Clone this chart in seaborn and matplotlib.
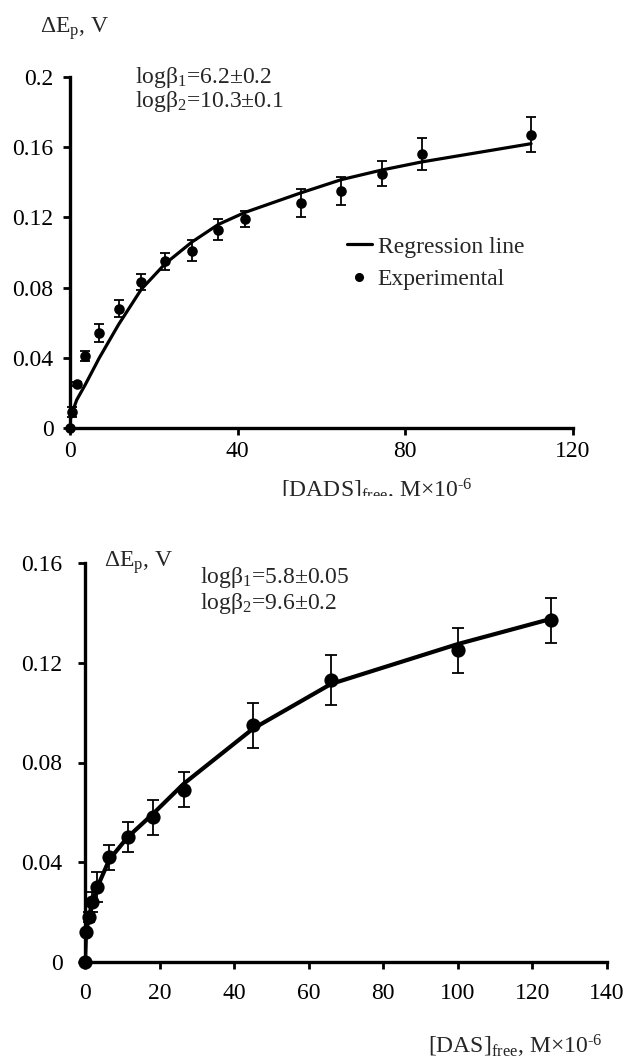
import matplotlib
matplotlib.use("Agg")
import matplotlib.pyplot as plt
from matplotlib.lines import Line2D
from matplotlib.transforms import Bbox, TransformedBbox
import seaborn as sns

# ---- DADS titration: peak-potential shift vs free ligand concentration ----
dads_conc = [0, 0.55, 1.6, 3.6, 7.0, 11.6, 17.0, 22.7, 29.1, 35.4, 41.7, 55.1, 64.7, 74.4, 83.9, 110]
dads_shift = [0, 0.009, 0.025, 0.041, 0.054, 0.068, 0.083, 0.095, 0.101, 0.113, 0.119,
              0.128, 0.135, 0.145, 0.156, 0.167]
dads_err = [0, 0.003, 0.001, 0.003, 0.005, 0.005, 0.0045, 0.005, 0.006, 0.006, 0.0045,
            0.008, 0.008, 0.007, 0.009, 0.010]
dads_fit = [0.004, 0.009, 0.016, 0.0245, 0.040, 0.059, 0.079, 0.0936, 0.106, 0.116, 0.1228,
            0.134, 0.1415, 0.147, 0.1516, 0.162]

# ---- DAS titration ----
das_conc = [0, 0.27, 1.07, 1.8, 3.3, 6.5, 11.4, 18.3, 26.5, 45, 66, 100, 125]
das_shift = [0, 0.012, 0.018, 0.024, 0.030, 0.042, 0.050, 0.058, 0.069, 0.095, 0.113, 0.125, 0.137]
das_err = [0, 0, 0.002, 0.004, 0.006, 0.005, 0.006, 0.007, 0.007, 0.009, 0.010, 0.009, 0.009]
das_fit = [0, 0.012, 0.018, 0.023, 0.030, 0.041, 0.050, 0.0595, 0.0715, 0.0935, 0.1115, 0.1275, 0.1376]

# ---- tick positions and labels ----
dads_xticks = [0, 40, 80, 120]
dads_yticks = [0, 0.04, 0.08, 0.12, 0.16, 0.2]
dads_ylabels = ["0", "0.04", "0.08", "0.12", "0.16", "0.2"]
das_xticks = [0, 20, 40, 60, 80, 100, 120, 140]
das_yticks = [0, 0.04, 0.08, 0.12, 0.16]
das_ylabels = ["0", "0.04", "0.08", "0.12", "0.16"]

dads_consts = ["logβ$_{\\mathregular{1}}$=6.2±0.2", "logβ$_{\\mathregular{2}}$=10.3±0.1"]
das_consts = ["logβ$_{\\mathregular{1}}$=5.8±0.05", "logβ$_{\\mathregular{2}}$=9.6±0.2"]
ylabel_text = "ΔE$_{\\mathregular{p}}$, V"
dads_xlabel = "[DADS]$_{\\mathregular{free}}$, M×10$^{\\mathregular{\u20106}}$"
das_xlabel = "[DAS]$_{\\mathregular{free}}$, M×10$^{\\mathregular{\u20106}}$"

sns.set_theme(style="ticks")
plt.rcParams["font.family"] = ["Liberation Serif", "DejaVu Serif"]
plt.rcParams["mathtext.fontset"] = "custom"
plt.rcParams["mathtext.rm"] = "Liberation Serif"
plt.rcParams["mathtext.it"] = "Liberation Serif:italic"
plt.rcParams["mathtext.bf"] = "Liberation Serif:bold"

W, H = 627, 1064
FS = 17
fig = plt.figure(figsize=(W / 100, H / 100), dpi=100)


def px_axes(left, top, right, bottom):
    return fig.add_axes([left / W, 1 - bottom / H, (right - left) / W, (bottom - top) / H])


def fig_xy(x, y):
    return x / W, 1 - y / H


def style_axes(ax, xpad, ypad, ticklen):
    for side in ("top", "right"):
        ax.spines[side].set_visible(False)
    for side in ("left", "bottom"):
        ax.spines[side].set_linewidth(2.4)
        ax.spines[side].set_color("black")
        ax.spines[side].set_capstyle("projecting")
    ax.tick_params(axis="both", direction="out", length=ticklen, width=2.0,
                   color="black", labelsize=FS, labelcolor="black")
    ax.tick_params(axis="x", pad=xpad)
    ax.tick_params(axis="y", pad=ypad)
    ax.grid(False)
    ax.set_facecolor("white")
    ax.set_xlabel("")
    ax.set_ylabel("")


# ---------------- upper panel: DADS ----------------
ax1 = px_axes(70, 77, 573, 428)
ax1.errorbar(dads_conc, dads_shift, yerr=dads_err, fmt="none", ecolor="black",
             elinewidth=1.3, capsize=3.8, capthick=1.3, zorder=3, clip_on=False)
sns.lineplot(x=dads_conc, y=dads_fit, ax=ax1, color="black", linewidth=2.3,
             sort=False, estimator=None, zorder=2)
sns.scatterplot(x=dads_conc, y=dads_shift, ax=ax1, color="black", s=58,
                edgecolor="black", linewidth=0, zorder=4, clip_on=False, legend=False)
ax1.set_xlim(0, 120)
ax1.set_ylim(0, 0.2)
ax1.set_xticks(dads_xticks, labels=[str(v) for v in dads_xticks])
ax1.set_yticks(dads_yticks, labels=dads_ylabels)
style_axes(ax1, xpad=4.5, ypad=7, ticklen=4.8)

fig.text(*fig_xy(40, 29), ylabel_text, fontsize=FS, ha="left", va="center")
fig.text(*fig_xy(135, 78), dads_consts[0], fontsize=FS, ha="left", va="center")
fig.text(*fig_xy(135, 101), dads_consts[1], fontsize=FS, ha="left", va="center")

xl = fig.text(*fig_xy(377, 490), dads_xlabel, fontsize=FS, ha="center", va="center")
xl.set_clip_box(TransformedBbox(Bbox([[0, 1 - 496 / H], [1, 1]]), fig.transFigure))
xl.set_clip_on(True)

handles = [Line2D([], [], color="black", lw=2.3),
           Line2D([], [], color="black", marker="o", markersize=5.5, ls="none")]
fig.legend(handles, ["Regression line", "Experimental"], loc="center left",
           bbox_to_anchor=fig_xy(347, 263), frameon=False, fontsize=FS,
           handlelength=1.05, handletextpad=0.25, labelspacing=0.45,
           borderpad=0, borderaxespad=0)

# ---------------- lower panel: DAS ----------------
ax2 = px_axes(85, 563, 607, 962)
ax2.errorbar(das_conc, das_shift, yerr=das_err, fmt="none", ecolor="black",
             elinewidth=1.3, capsize=4.5, capthick=1.3, zorder=3, clip_on=False)
sns.lineplot(x=das_conc, y=das_fit, ax=ax2, color="black", linewidth=3.0,
             sort=False, estimator=None, zorder=2)
sns.scatterplot(x=das_conc, y=das_shift, ax=ax2, color="black", s=105,
                edgecolor="black", linewidth=0, zorder=4, clip_on=False, legend=False)
ax2.set_xlim(0, 140)
ax2.set_ylim(0, 0.16)
ax2.set_xticks(das_xticks, labels=[str(v) for v in das_xticks])
ax2.set_yticks(das_yticks, labels=das_ylabels)
style_axes(ax2, xpad=10, ypad=11, ticklen=5.2)

fig.text(*fig_xy(104, 563), ylabel_text, fontsize=FS, ha="left", va="center")
fig.text(*fig_xy(200, 578), das_consts[0], fontsize=FS, ha="left", va="center")
fig.text(*fig_xy(200, 604), das_consts[1], fontsize=FS, ha="left", va="center")
fig.text(*fig_xy(603, 1046), das_xlabel, fontsize=FS, ha="right", va="center")

fig.savefig("out.png", dpi=100, facecolor="white")
